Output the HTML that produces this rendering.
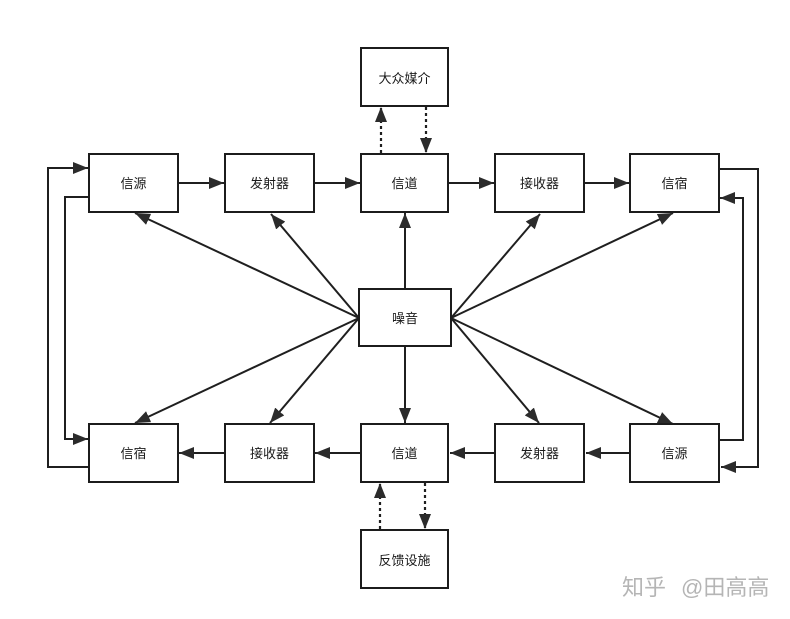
<!DOCTYPE html>
<html><head><meta charset="utf-8"><style>
html,body{margin:0;padding:0;background:#fff}
svg{display:block}
text{font-family:"Liberation Sans","Noto Sans CJK SC",sans-serif;font-size:13px;fill:#1a1a1a;text-anchor:middle}
.b{fill:#fff;stroke:#1c1c1c;stroke-width:2}
.l{fill:none;stroke:#1f1f1f;stroke-width:2;marker-end:url(#a)}
.d{fill:none;stroke:#1f1f1f;stroke-width:2.200;stroke-dasharray:3 3;marker-end:url(#a)}
</style></head><body>
<svg width="790" height="619" viewBox="0 0 790 619" xmlns="http://www.w3.org/2000/svg">
<defs><marker id="a" markerUnits="userSpaceOnUse" markerWidth="16" markerHeight="13" refX="15" refY="6.500" orient="auto"><path d="M0 .5L15 6.500L0 12.500z" fill="#2b2b2b"/></marker></defs>
<rect width="790" height="619" fill="#fff"/>
<path class="l" d="M178 183H224"/><path class="l" d="M314 183H360"/><path class="l" d="M448 183H494"/><path class="l" d="M584 183H629"/>
<path class="l" d="M630 453H586"/><path class="l" d="M495 453H450"/><path class="l" d="M361 453H315"/><path class="l" d="M225 453H179"/>
<path class="l" d="M405 289V213"/><path class="l" d="M405 346V423"/>
<path class="l" d="M359 318L135 213"/><path class="l" d="M359 318L271 214"/><path class="l" d="M359 318L135 423"/><path class="l" d="M359 318L270 423"/>
<path class="l" d="M451 318L540 214"/><path class="l" d="M451 318L673 213"/><path class="l" d="M451 318L539 423"/><path class="l" d="M451 318L673 424"/>
<path class="l" d="M89 197H65V439H88"/><path class="l" d="M89 467H48V168H88"/>
<path class="l" d="M719 169H758V467H721"/><path class="l" d="M719 440H743V198H720"/>
<path class="d" d="M381 153V107"/><path class="d" d="M426 107V153"/><path class="d" d="M380 529V483"/><path class="d" d="M425 483V529"/>
<rect class="b" x="361" y="48" width="87" height="58"/><text x="404.500" y="83">大众媒介</text>
<rect class="b" x="89" y="154" width="89" height="58"/><text x="133.500" y="188">信源</text>
<rect class="b" x="225" y="154" width="89" height="58"/><text x="269.500" y="188">发射器</text>
<rect class="b" x="361" y="154" width="87" height="58"/><text x="404.500" y="188">信道</text>
<rect class="b" x="495" y="154" width="89" height="58"/><text x="539.500" y="188">接收器</text>
<rect class="b" x="630" y="154" width="89" height="58"/><text x="674.500" y="188">信宿</text>
<rect class="b" x="359" y="289" width="92" height="57"/><text x="405" y="323">噪音</text>
<rect class="b" x="89" y="424" width="89" height="58"/><text x="133.500" y="458">信宿</text>
<rect class="b" x="225" y="424" width="89" height="58"/><text x="269.500" y="458">接收器</text>
<rect class="b" x="361" y="424" width="87" height="58"/><text x="404.500" y="458">信道</text>
<rect class="b" x="495" y="424" width="89" height="58"/><text x="539.500" y="458">发射器</text>
<rect class="b" x="630" y="424" width="89" height="58"/><text x="674.500" y="458">信源</text>
<rect class="b" x="361" y="530" width="87" height="58"/><text x="404.500" y="565">反馈设施</text>
<text x="622" y="595" style="font-size:22px;fill:#b5b5b5;text-anchor:start">知乎</text>
<text x="681" y="595" style="font-size:22px;fill:#b5b5b5;text-anchor:start">@田高高</text>
</svg>
</body></html>
